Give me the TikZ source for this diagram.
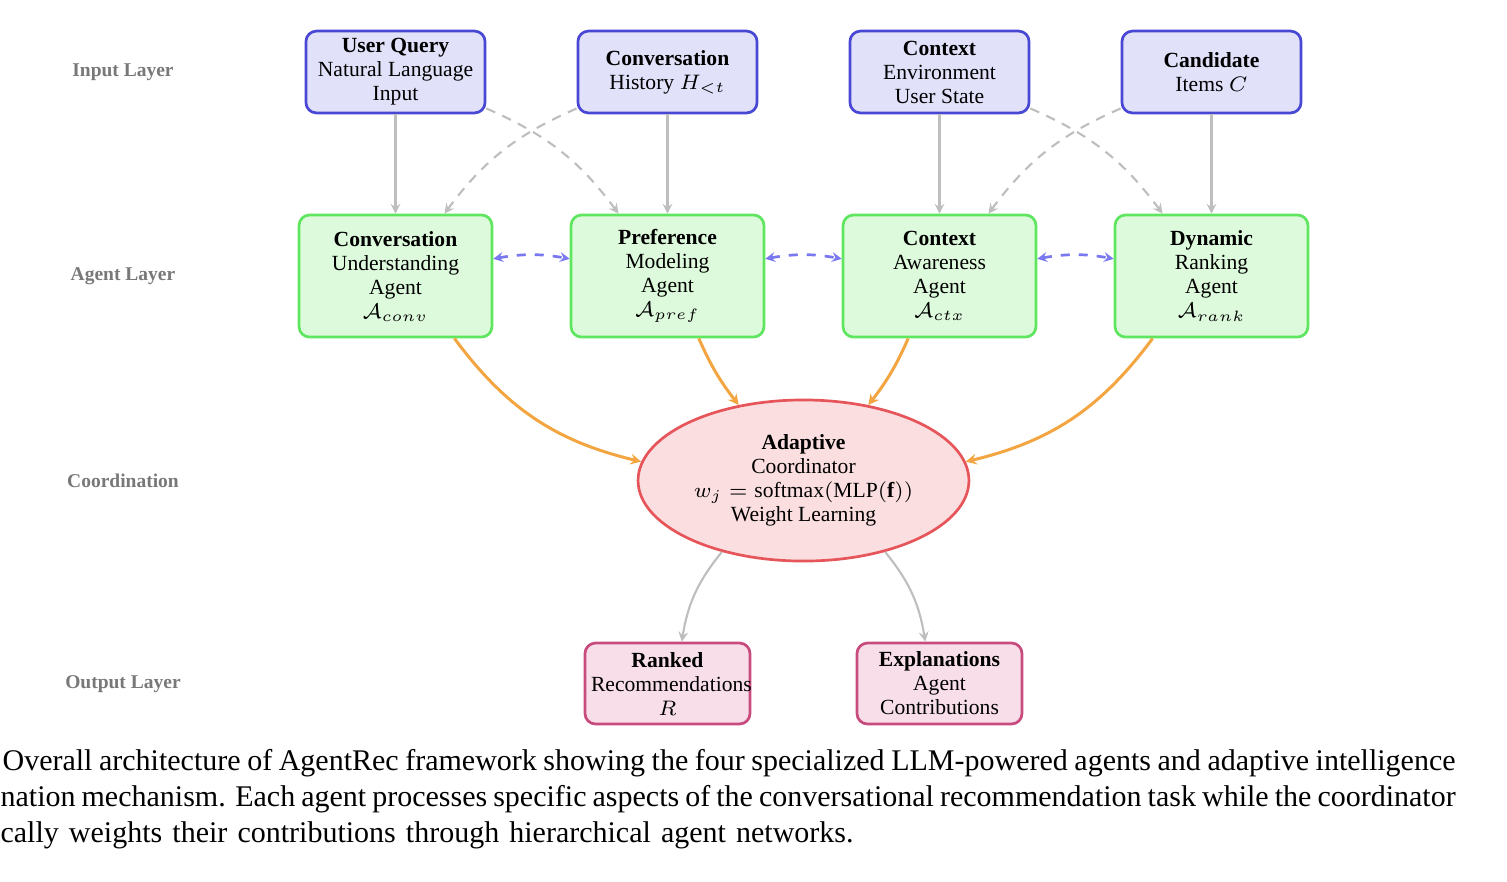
\documentclass[tikz,border=0pt]{standalone}
\usepackage{fontspec}
\setmainfont{Liberation Serif}
\usetikzlibrary{arrows.meta,shapes.geometric}
\definecolor{inline}{RGB}{72,72,212}
\definecolor{infill}{RGB}{225,225,250}
\definecolor{agline}{RGB}{95,230,95}
\definecolor{agfill}{RGB}{222,250,220}
\definecolor{coline}{RGB}{230,85,90}
\definecolor{cofill}{RGB}{251,222,224}
\definecolor{outline}{RGB}{200,75,125}
\definecolor{outfill}{RGB}{247,222,232}
\definecolor{arrorange}{RGB}{243,165,65}
\definecolor{arrgray}{RGB}{190,190,190}
\definecolor{arrblue}{RGB}{120,120,240}
\definecolor{laygray}{RGB}{120,120,120}
\begin{document}
\begin{tikzpicture}[x=0.33333pt,y=-0.33333pt,
    every node/.style={font=\fontsize{7.2}{8}\selectfont,align=center},
    inbox/.style={draw=inline,fill=infill,line width=0.9pt,rounded corners=3.5pt,minimum width=59.7pt,minimum height=27.3pt,inner sep=2pt},
    agbox/.style={draw=agline,fill=agfill,line width=0.9pt,rounded corners=3.5pt,minimum width=64.3pt,minimum height=40.7pt,inner sep=2pt},
    cobox/.style={ellipse,draw=coline,fill=cofill,line width=0.9pt,minimum width=110.3pt,minimum height=53.7pt,inner sep=0pt},
    outbox/.style={draw=outline,fill=outfill,line width=0.9pt,rounded corners=3.5pt,text width=51pt,minimum height=27pt,inner sep=2pt},
    laylabel/.style={font=\fontsize{6.5}{8}\selectfont\bfseries,text=laygray},
    caption/.style={anchor=base west,inner sep=0pt,font=\fontsize{10}{12}\selectfont},
    feed/.style={draw=arrgray,line width=0.7pt,-{Stealth[length=3.3pt,width=3.3pt,inset=1.2pt]}},
    cross/.style={feed,dash pattern=on 3.2pt off 2.6pt},
    peer/.style={draw=arrblue,line width=0.9pt,dash pattern=on 3pt off 3pt,{Stealth[length=3.3pt,width=3.3pt,inset=1.2pt]}-{Stealth[length=3.3pt,width=3.3pt,inset=1.2pt]}},
    merge/.style={draw=arrorange,line width=1pt,-{Stealth[length=3.6pt,width=3.6pt,inset=1.3pt]}}]
    \useasboundingbox (0,0) rectangle (1507,881);
    \node [laylabel] (layin) at (123,72) {Input Layer};
    \node [laylabel] (layag) at (123,276) {Agent Layer};
    \node [laylabel] (layco) at (123,481) {Coordination};
    \node [laylabel] (layout) at (123,684) {Output Layer};
    \node [inbox] (query) at (395.5,72) {\textbf{User Query}\\Natural Language\\Input};
    \node [inbox] (history) at (667.5,72) {\textbf{Conversation}\\History $H_{<t}$};
    \node [inbox] (context) at (939.5,72) {\textbf{Context}\\Environment\\User State};
    \node [inbox] (cands) at (1211.5,72) {\textbf{Candidate}\\Items $C$};
    \node [agbox] (aconv) at (395.5,276) {\textbf{Conversation}\\Understanding\\Agent\\$\mathcal{A}_{conv}$};
    \node [agbox] (apref) at (667.5,276) {\textbf{Preference}\\Modeling\\Agent\\$\mathcal{A}_{pref}$};
    \node [agbox] (actx) at (939.5,276) {\textbf{Context}\\Awareness\\Agent\\$\mathcal{A}_{ctx}$};
    \node [agbox] (arank) at (1211.5,276) {\textbf{Dynamic}\\Ranking\\Agent\\$\mathcal{A}_{rank}$};
    \node [cobox] (coord) at (803.5,480.5) {\textbf{Adaptive}\\Coordinator\\$w_j = \textrm{softmax}(\textrm{MLP}(\mathbf{f}))$\\Weight Learning};
    \node [outbox] (ranked) at (667.5,683.5) {\textbf{Ranked}\\Recommendations\\$R$};
    \node [outbox] (explain) at (939.5,683.5) {\textbf{Explanations}\\Agent\\Contributions};
    \draw [feed] (query) -- (aconv);
    \draw [feed] (history) -- (apref);
    \draw [feed] (context) -- (actx);
    \draw [feed] (cands) -- (arank);
    \draw [cross] (query) to [bend left=15] (apref);
    \draw [cross] (history) to [bend right=15] (aconv);
    \draw [cross] (context) to [bend left=15] (arank);
    \draw [cross] (cands) to [bend right=15] (actx);
    \draw [peer] (aconv) to [bend left=10] (apref);
    \draw [peer] (apref) to [bend left=10] (actx);
    \draw [peer] (actx) to [bend left=10] (arank);
    \draw [merge] (aconv) to [bend right=20] (coord);
    \draw [merge] (apref) to [bend right=7] (coord);
    \draw [merge] (actx) to [bend left=7] (coord);
    \draw [merge] (arank) to [bend left=20] (coord);
    \draw [feed] (coord) to [bend right=15] (ranked);
    \draw [feed] (coord) to [bend left=15] (explain);
    \node [caption] (cap1) at (2,770) {\makebox[484.3pt][s]{Overall architecture of AgentRec framework showing the four specialized LLM-powered agents and adaptive intelligence}};
    \node [caption] (cap2) at (0,806) {\makebox[485pt][s]{nation mechanism. Each agent processes specific aspects of the conversational recommendation task while the coordinator}};
    \node [caption] (cap3) at (0,842) {\makebox[284.3pt][s]{cally weights their contributions through hierarchical agent networks.}};
\end{tikzpicture}
\end{document}
